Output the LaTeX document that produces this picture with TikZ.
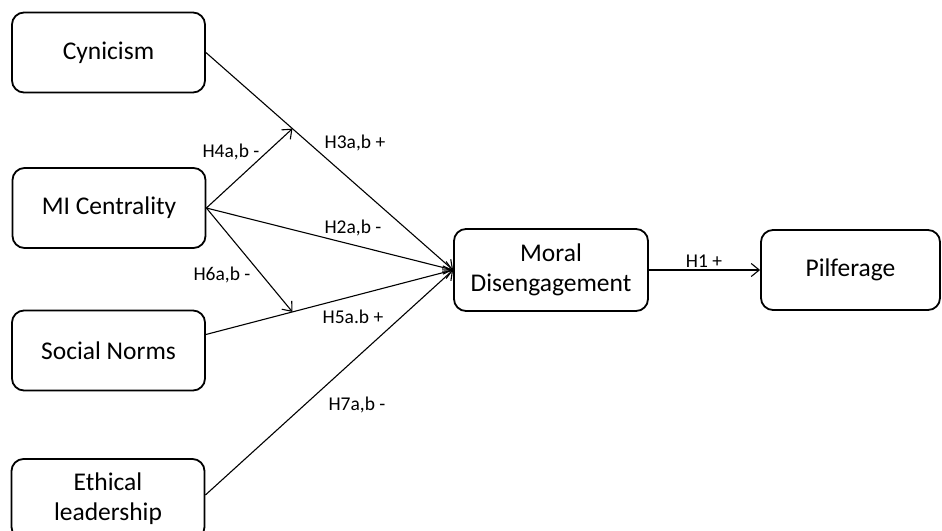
\documentclass[tikz,border=0pt]{standalone}
\usepackage{fontspec}
\setmainfont{Carlito}
\usetikzlibrary{calc, arrows.meta}

\tikzset{
  construct/.style={draw, rounded corners=12pt, line width=1.8pt,
    minimum width=193pt, minimum height=80pt, align=center,
    font=\fontsize{25.5}{30}\selectfont},
  hyp/.style={inner sep=0pt, font=\fontsize{19.5}{22}\selectfont},
  link/.style={line width=1.1pt, -{Straight Barb[length=8pt,width=13pt]}}
}

\begin{document}
\begin{tikzpicture}[x=1pt, y=1pt]
    \clip (0,-530) rectangle (942,0);

    % Predictors
    \node[construct] (cyn) at (108.5,-52.5) {Cynicism};
    \node[construct] (mi) at (109,-208) {MI Centrality};
    \node[construct] (sn) at (108.5,-350.5) {Social Norms};
    \node[construct] (eth) at (108,-499) {Ethical\\leadership};

    % Mediator and outcome
    \node[construct, minimum width=194pt, minimum height=82pt] (md) at (551,-270) {Moral\\Disengagement};
    \node[construct, minimum width=179pt] (pil) at (850.5,-270) {Pilferage};

    % Points on the paths hit by the moderator
    \coordinate (c4) at ($(cyn.east)!0.35!(md.west)$);
    \coordinate (c6) at ($([yshift=16pt]sn.east)!0.35!(md.west)$);

    % Arrows
    \draw[link] (cyn.east) -- (md.west);
    \draw[link] (mi.east) -- (md.west);
    \draw[link] ([yshift=16pt]sn.east) -- (md.west);
    \draw[link] ([yshift=4pt]eth.east) -- (md.west);
    \draw[link] (mi.east) -- (c4);
    \draw[link] (mi.east) -- (c6);
    \draw[link] (md.east) -- (pil.west);

    % Hypotheses
    \node[hyp] (h4) at (231,-152) {H4a,b -};
    \node[hyp] (h3) at (355,-143) {H3a,b +};
    \node[hyp] (h2) at (353,-228) {H2a,b -};
    \node[hyp] (h6) at (222,-275) {H6a,b -};
    \node[hyp] (h5) at (353,-317) {H5a.b +};
    \node[hyp] (h7) at (357,-405) {H7a,b -};
    \node[hyp] (h1) at (704,-261) {H1 +};

\end{tikzpicture}
\end{document}
